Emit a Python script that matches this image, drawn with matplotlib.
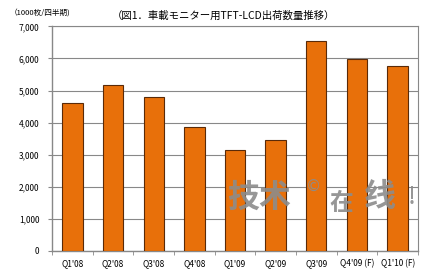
import matplotlib.pyplot as plt
import numpy as np

plt.rcParams['font.family'] = ['Noto Sans CJK JP', 'DejaVu Sans']

quarters = ["Q1'08", "Q2'08", "Q3'08", "Q4'08", "Q1'09", "Q2'09", "Q3'09",
            "Q4'09 (F)", "Q1'10 (F)"]
shipments = [4600, 5170, 4800, 3870, 3150, 3460, 6560, 5970, 5780]
yticks = [0, 1000, 2000, 3000, 4000, 5000, 6000, 7000]

fig = plt.figure(figsize=(4.3, 2.78), dpi=100)
ax = fig.add_axes([0.121, 0.098, 0.851, 0.807])

x = np.arange(len(quarters))
ax.bar(x, shipments, width=0.5, color='#E8700A', edgecolor='#5a2a08',
       linewidth=0.8, zorder=3)

ax.set_xlim(-0.5, len(quarters) - 0.5)
ax.set_ylim(0, 7000)
ax.set_yticks(yticks)
ax.set_yticklabels(['{:,}'.format(v) for v in yticks], fontsize=6)
ax.yaxis.grid(True, color='#888888', linewidth=0.8, zorder=0)

# category labels centered, tick marks between categories
ax.set_xticks(x)
ax.set_xticklabels(quarters, fontsize=6)
ax.tick_params(axis='x', length=0, pad=6)
ax.set_xticks(np.arange(len(quarters) + 1) - 0.5, minor=True)
ax.tick_params(axis='x', which='minor', length=3, color='#888888', direction='out')
ax.tick_params(axis='y', length=3, color='#888888', pad=6)

for s in ['left', 'bottom']:
    ax.spines[s].set_color('#888888')
    ax.spines[s].set_linewidth(1.0)
for s in ['top', 'right']:
    ax.spines[s].set_color('#888888')
    ax.spines[s].set_linewidth(0.8)

fig.text(0.022, 0.955, '（1000枚/四半期)', fontsize=5.5, va='center', ha='left')
fig.text(0.26, 0.945, '（図1．車載モニター用TFT-LCD出荷数量推移）', fontsize=7.5,
         va='center', ha='left')

# watermark
wm = '#8c8c8c'
fig.text(0.528, 0.29, '技术', fontsize=23, color=wm, va='center', ha='left',
         fontweight='bold', alpha=0.9)
fig.text(0.712, 0.33, '©', fontsize=11, color=wm, va='center', ha='left',
         family='DejaVu Sans', alpha=0.9)
fig.text(0.765, 0.27, '在', fontsize=17, color=wm, va='center', ha='left',
         fontweight='bold', alpha=0.9)
fig.text(0.846, 0.29, '线', fontsize=23, color=wm, va='center', ha='left',
         fontweight='bold', alpha=0.9)
fig.text(0.948, 0.29, '!', fontsize=18, color=wm, va='center', ha='left', alpha=0.9)

fig.savefig('out.png', dpi=100)
